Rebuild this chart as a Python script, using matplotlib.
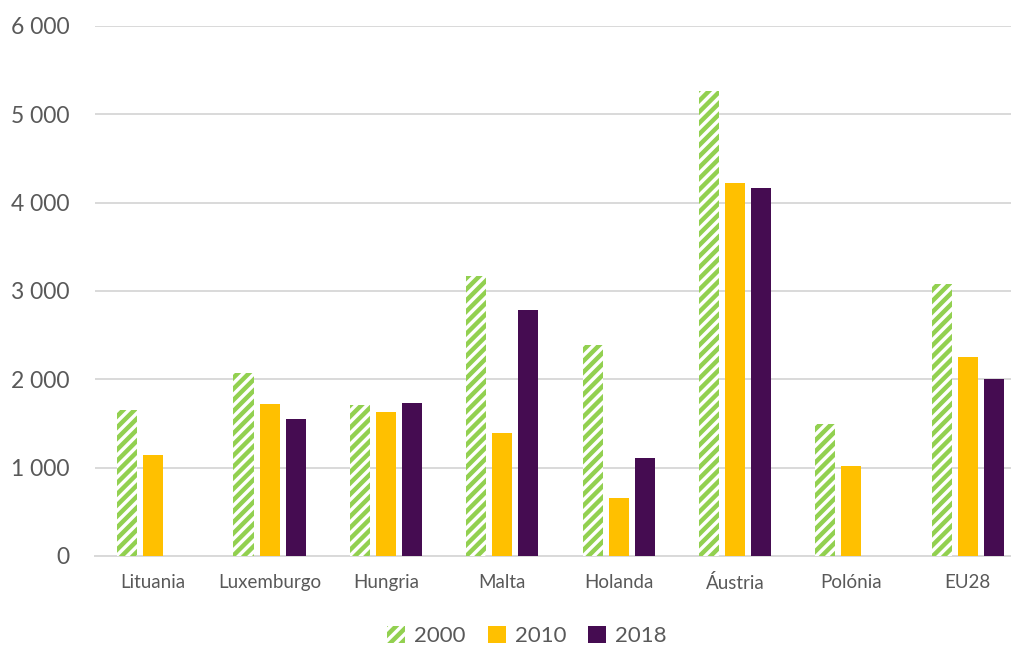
import numpy as np
import matplotlib
matplotlib.use("Agg")
import matplotlib.pyplot as plt
from matplotlib.ticker import FuncFormatter

# ---------------------------------
# Data
# ---------------------------------
countries = ["Lituania", "Luxemburgo", "Hungria", "Malta", "Holanda",
             "Áustria", "Polónia", "EU28"]
years = ["2000", "2010", "2018"]
values_2000 = [1650, 2070, 1710, 3170, 2390, 5265, 1495, 3080]
values_2010 = [1140, 1720, 1630, 1395, 655, 4225, 1020, 2255]
values_2018 = [0, 1555, 1735, 2780, 1115, 4165, 0, 2005]

green = "#92D050"
yellow = "#FFC000"
purple = "#450C51"
text_grey = "#595959"
grid_grey = "#D9D9D9"

plt.rcParams["font.family"] = ["Lato", "DejaVu Sans"]
plt.rcParams["hatch.linewidth"] = 3.2

fig = plt.figure(figsize=(10.12, 6.46), dpi=100)
ax = fig.add_axes([95 / 1012, 1 - 556 / 646, 931 / 1012, (556 - 26) / 646])

x = np.arange(len(countries))
width = 0.172
step = 0.224

ax.bar(x - step, values_2000, width, facecolor="white", edgecolor=green,
       hatch="///", linewidth=0, label=years[0], zorder=3)
ax.bar(x, values_2010, width, color=yellow, label=years[1], zorder=3)
ax.bar(x + step, values_2018, width, color=purple, label=years[2], zorder=3)

ax.set_xlim(-0.5, len(countries) - 0.5)
ax.set_ylim(0, 6000)
ax.set_yticks(np.arange(0, 6001, 1000))
ax.yaxis.set_major_formatter(FuncFormatter(lambda v, p: f"{int(v):,}".replace(",", " ")))
ax.set_xticks(x)
ax.set_xticklabels(countries)

ax.grid(axis="y", color=grid_grey, linewidth=1.4, zorder=0)
for side in ["top", "right", "left"]:
    ax.spines[side].set_visible(False)
ax.spines["bottom"].set_color(grid_grey)
ax.spines["bottom"].set_linewidth(1.4)

ax.tick_params(axis="y", length=0, pad=18, labelsize=16.5, labelcolor=text_grey)
ax.tick_params(axis="x", length=0, pad=13, labelsize=13.5, labelcolor=text_grey)

leg = fig.legend(loc="center", bbox_to_anchor=(527 / 1012, 1 - 636 / 646),
                 ncol=3, frameon=False, fontsize=16, handlelength=0.8,
                 handleheight=0.8, handletextpad=0.4, columnspacing=1.0)
for t in leg.get_texts():
    t.set_color(text_grey)

fig.savefig("out.png", dpi=100)
